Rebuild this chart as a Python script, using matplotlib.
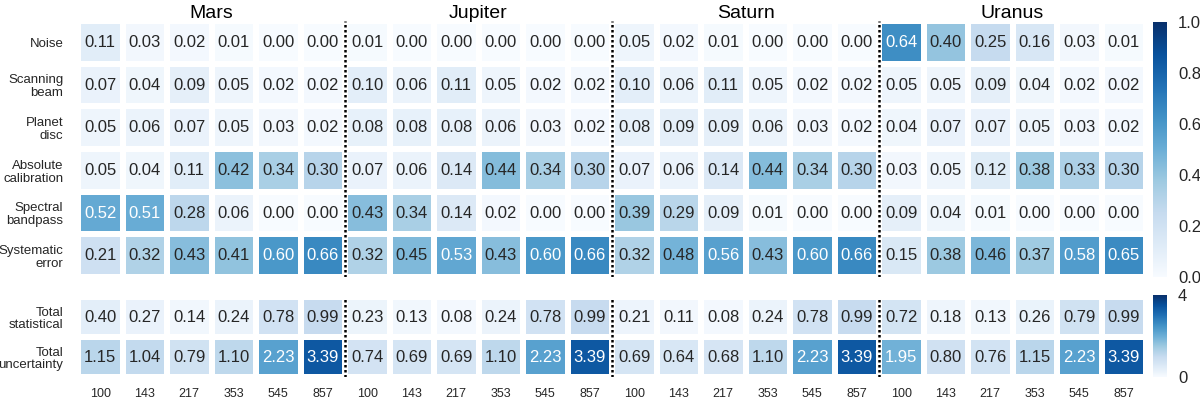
import numpy as np
import matplotlib
matplotlib.use("Agg")
import matplotlib.pyplot as plt
from matplotlib.colors import Normalize, to_rgb

plt.rcParams['font.family'] = ['Liberation Sans', 'DejaVu Sans']

planets = ["Mars", "Jupiter", "Saturn", "Uranus"]
freqs = ["100", "143", "217", "353", "545", "857"]
sys_labels = ["Noise", "Scanning\nbeam", "Planet\ndisc", "Absolute\ncalibration",
              "Spectral\nbandpass", "Systematic\nerror"]
tot_labels = ["Total\nstatistical", "Total\nuncertainty"]

# systematic contributions (rows = sys_labels, cols = freqs)
mars_sys = [[0.11, 0.03, 0.02, 0.01, 0.00, 0.00],
            [0.07, 0.04, 0.09, 0.05, 0.02, 0.02],
            [0.05, 0.06, 0.07, 0.05, 0.03, 0.02],
            [0.05, 0.04, 0.11, 0.42, 0.34, 0.30],
            [0.52, 0.51, 0.28, 0.06, 0.00, 0.00],
            [0.21, 0.32, 0.43, 0.41, 0.60, 0.66]]
jupiter_sys = [[0.01, 0.00, 0.00, 0.00, 0.00, 0.00],
               [0.10, 0.06, 0.11, 0.05, 0.02, 0.02],
               [0.08, 0.08, 0.08, 0.06, 0.03, 0.02],
               [0.07, 0.06, 0.14, 0.44, 0.34, 0.30],
               [0.43, 0.34, 0.14, 0.02, 0.00, 0.00],
               [0.32, 0.45, 0.53, 0.43, 0.60, 0.66]]
saturn_sys = [[0.05, 0.02, 0.01, 0.00, 0.00, 0.00],
              [0.10, 0.06, 0.11, 0.05, 0.02, 0.02],
              [0.08, 0.09, 0.09, 0.06, 0.03, 0.02],
              [0.07, 0.06, 0.14, 0.44, 0.34, 0.30],
              [0.39, 0.29, 0.09, 0.01, 0.00, 0.00],
              [0.32, 0.48, 0.56, 0.43, 0.60, 0.66]]
uranus_sys = [[0.64, 0.40, 0.25, 0.16, 0.03, 0.01],
              [0.05, 0.05, 0.09, 0.04, 0.02, 0.02],
              [0.04, 0.07, 0.07, 0.05, 0.03, 0.02],
              [0.03, 0.05, 0.12, 0.38, 0.33, 0.30],
              [0.09, 0.04, 0.01, 0.00, 0.00, 0.00],
              [0.15, 0.38, 0.46, 0.37, 0.58, 0.65]]

# totals (rows = tot_labels)
mars_tot = [[0.40, 0.27, 0.14, 0.24, 0.78, 0.99],
            [1.15, 1.04, 0.79, 1.10, 2.23, 3.39]]
jupiter_tot = [[0.23, 0.13, 0.08, 0.24, 0.78, 0.99],
               [0.74, 0.69, 0.69, 1.10, 2.23, 3.39]]
saturn_tot = [[0.21, 0.11, 0.08, 0.24, 0.78, 0.99],
              [0.69, 0.64, 0.68, 1.10, 2.23, 3.39]]
uranus_tot = [[0.72, 0.18, 0.13, 0.26, 0.79, 0.99],
              [1.95, 0.80, 0.76, 1.15, 2.23, 3.39]]

sys_data = np.hstack([np.array(a) for a in (mars_sys, jupiter_sys, saturn_sys, uranus_sys)])
tot_data = np.hstack([np.array(a) for a in (mars_tot, jupiter_tot, saturn_tot, uranus_tot)])
ncol = sys_data.shape[1]

TXT = "#262626"
cmap = plt.get_cmap("Blues")

fig = plt.figure(figsize=(12, 4), dpi=100)
ax1 = fig.add_axes([0.065, 0.3075, 0.89, 0.64])
ax2 = fig.add_axes([0.065, 0.0575, 0.89, 0.20])
cax1 = fig.add_axes([0.961, 0.3075, 0.0115, 0.6375])
cax2 = fig.add_axes([0.961, 0.0575, 0.0115, 0.205])


def rel_lum(c):
    rgb = np.array(to_rgb(c))
    rgb = np.where(rgb <= 0.03928, rgb / 12.92, ((rgb + 0.055) / 1.055) ** 2.4)
    return 0.2126 * rgb[0] + 0.7152 * rgb[1] + 0.0722 * rgb[2]


def heat(ax, cax, data, labels, vmax, cticks):
    norm = Normalize(0, vmax)
    m = ax.pcolormesh(data, cmap=cmap, norm=norm, edgecolor="white", linewidth=3.2)
    ax.set_xlim(0, ncol)
    ax.set_ylim(data.shape[0], 0)
    for i in range(data.shape[0]):
        for j in range(ncol):
            v = data[i, j]
            col = "white" if rel_lum(cmap(norm(v))) < 0.408 else TXT
            ax.text(j + 0.5, i + 0.5, f"{v:.2f}", ha="center", va="center",
                    fontsize=12, color=col)
    ax.set_yticks(np.arange(data.shape[0]) + 0.5)
    ax.set_yticklabels(labels, fontsize=9.5, color=TXT, multialignment="right",
                       linespacing=1.1)
    ax.tick_params(length=0, pad=10.5)
    for s in ax.spines.values():
        s.set_visible(False)
    for k in (6, 12, 18):
        ax.axvline(k, color="black", linestyle=(0, (1, 1)), linewidth=1.8)
    cb = fig.colorbar(m, cax=cax, ticks=cticks)
    cb.outline.set_visible(False)
    cb.ax.tick_params(length=0, labelsize=12, labelcolor=TXT, pad=8)
    return cb


heat(ax1, cax1, sys_data, sys_labels, 1.0, [0, 0.2, 0.4, 0.6, 0.8, 1.0])
cax1.set_yticklabels(["0.0", "0.2", "0.4", "0.6", "0.8", "1.0"])
heat(ax2, cax2, tot_data, tot_labels, 4.0, [0, 4])
cax2.set_yticklabels(["0", "4"])

ax1.set_xticks([])
ax2.set_xticks(np.arange(ncol) + 0.5)
ax2.set_xticklabels(freqs * 4, fontsize=9, color=TXT)
ax2.tick_params(axis="x", pad=8)

for k, p in enumerate(planets):
    ax1.text(k * 6 + 3, -0.08, p, ha="center", va="baseline", fontsize=14, color="black")

fig.savefig("out.png", dpi=100)
